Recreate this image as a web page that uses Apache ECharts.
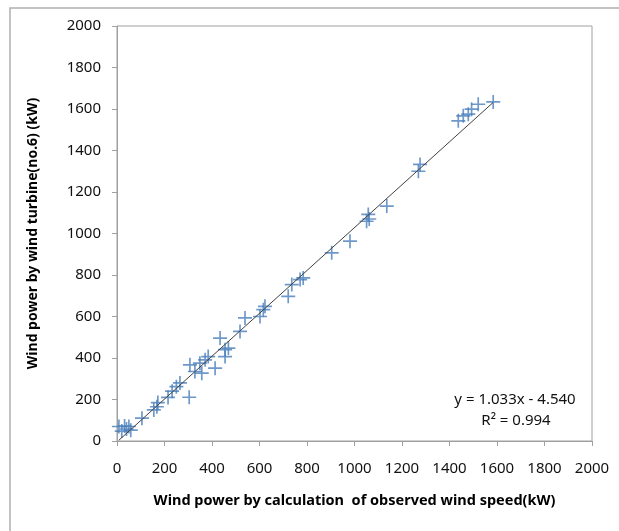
<!DOCTYPE html>
<html>
<head>
<meta charset="utf-8">
<script src="https://cdn.jsdelivr.net/npm/echarts@6/dist/echarts.min.js"></script>
<style>
  html, body { margin: 0; padding: 0; background: #fff; }
  #main { width: 619px; height: 531px; }
</style>
</head>
<body>
<div id="main"></div>
<script>
// observed-wind-speed power (x) vs turbine no.6 power (y), kW
var xObs = [8, 20, 32, 40, 50, 58, 105, 155, 168, 172, 215, 232, 250, 265, 304,
  307, 328, 349, 357, 371, 384, 413, 434, 455, 469, 455, 518, 539, 602, 616, 623,
  721, 736, 771, 784, 904, 981, 1051, 1058, 1062, 1136, 1269, 1276,
  1437, 1458, 1479, 1493, 1521, 1584];
var yTurbine = [70, 48, 72, 58, 70, 52, 110, 150, 165, 185, 210, 240, 262, 280, 211,
  367, 335, 375, 327, 391, 407, 351, 496, 440, 448, 407, 528, 593, 600, 633, 649,
  697, 754, 778, 786, 907, 963, 1059, 1092, 1070, 1132, 1300, 1333,
  1543, 1567, 1575, 1599, 1623, 1634];
var axisTicks = [0, 200, 400, 600, 800, 1000, 1200, 1400, 1600, 1800, 2000];
var slope = 1.033, intercept = -4.540, r2 = 0.994;

var points = xObs.map(function (x, i) { return [x, yTurbine[i]]; });
var minX = Math.min.apply(null, xObs), maxX = Math.max.apply(null, xObs);
var trend = [[minX, slope * minX + intercept], [maxX, slope * maxX + intercept]];

var chart = echarts.init(document.getElementById('main'));
var fontFam = 'Noto Sans';
var axisGray = '#a0a0a0';

function axisCfg(name, gap, nameSize) {
  return {
    type: 'value',
    min: axisTicks[0],
    max: axisTicks[axisTicks.length - 1],
    interval: axisTicks[1] - axisTicks[0],
    name: name,
    nameLocation: 'middle',
    nameGap: gap,
    nameTextStyle: { fontFamily: fontFam, fontSize: nameSize, fontWeight: 'bold', color: '#000' },
    axisLine: { show: true, lineStyle: { color: axisGray, width: 1 } },
    axisTick: { show: true, length: 5, inside: false, lineStyle: { color: axisGray } },
    axisLabel: { fontFamily: fontFam, fontSize: 15, color: '#111',
      formatter: function (v) { return String(v); } },
    splitLine: { show: false }
  };
}

var xCfg = axisCfg('Wind power by calculation  of observed wind speed(kW)', 52, 14.5);
xCfg.axisLabel.margin = 20;
var yCfg = axisCfg('Wind power by wind turbine(no.6) (kW)', 77, 14);
yCfg.axisLabel.margin = 16;

chart.setOption({
  backgroundColor: '#fff',
  animation: false,
  grid: { left: 117, top: 26, right: 27, bottom: 90, show: true, borderColor: axisGray, borderWidth: 1 },
  xAxis: xCfg,
  yAxis: yCfg,
  graphic: [
    { type: 'rect', shape: { x: 10, y: 8, width: 700, height: 600 },
      style: { fill: 'none', stroke: '#b0b0b0', lineWidth: 1.5 }, z: -1 },
    { type: 'text', x: 515, y: 400,
      style: { text: 'y = ' + slope.toFixed(3) + 'x - ' + Math.abs(intercept).toFixed(3),
        font: '15px "Noto Sans"', fill: '#111', align: 'center', verticalAlign: 'middle' } },
    { type: 'text', x: 516, y: 421,
      style: { text: 'R\u00b2 = ' + r2.toFixed(3), font: '15px "Noto Sans"', fill: '#111',
        align: 'center', verticalAlign: 'middle' } }
  ],
  series: [
    {
      type: 'line',
      data: trend,
      symbol: 'none',
      lineStyle: { color: '#404040', width: 1 },
      z: 3
    },
    {
      type: 'scatter',
      data: points,
      symbol: 'path://M4.4,0H5.6V4.4H10V5.6H5.6V10H4.4V5.6H0V4.4H4.4Z',
      symbolSize: 14,
      itemStyle: { color: '#4a7ebb' },
      z: 2
    }
  ]
});
</script>
</body>
</html>
